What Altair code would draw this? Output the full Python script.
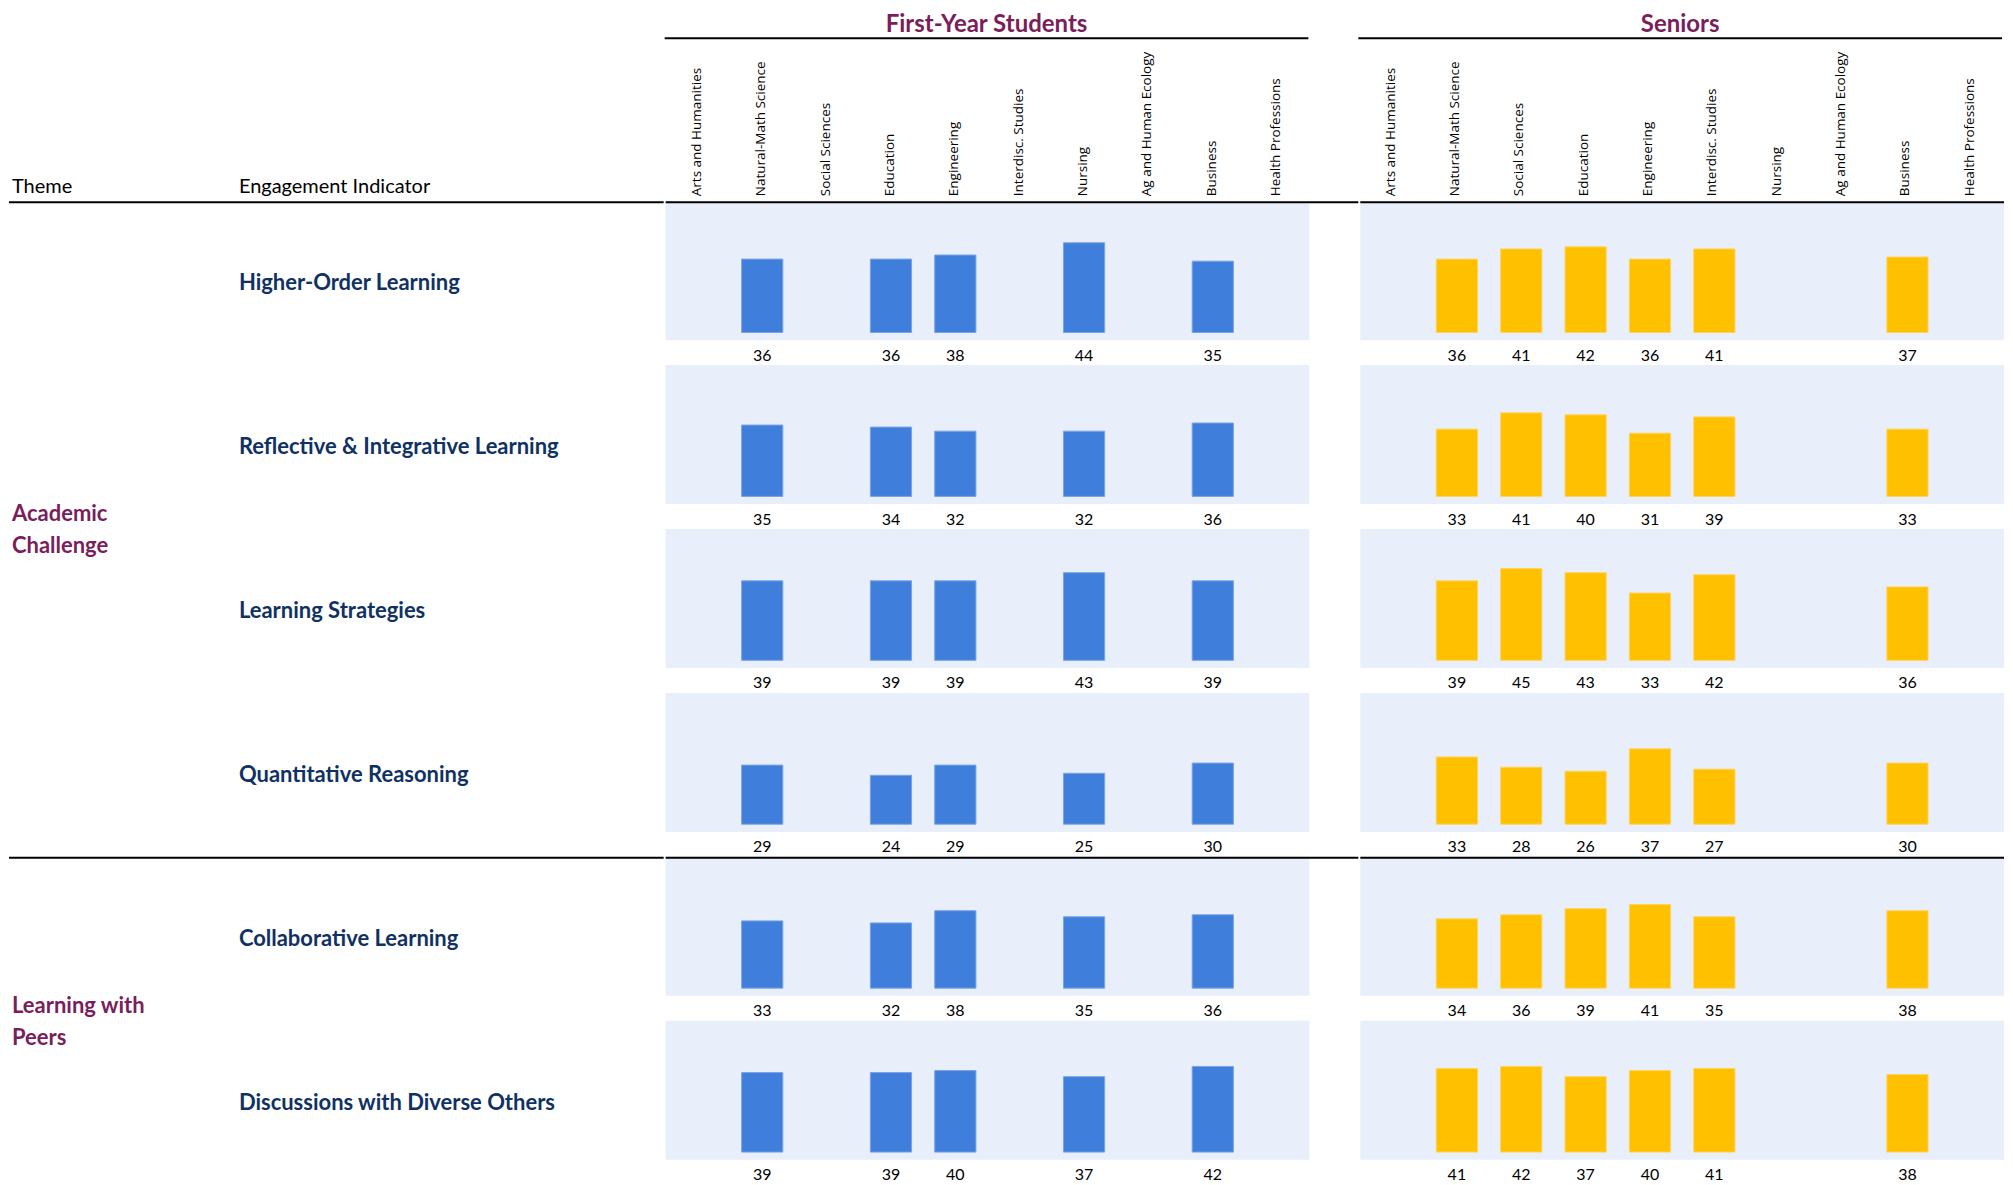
import altair as alt
import pandas as pd

# ---------------- data ----------------
categories = ["Arts and Humanities", "Natural-Math Science", "Social Sciences", "Education",
              "Engineering", "Interdisc. Studies", "Nursing", "Ag and Human Ecology",
              "Business", "Health Professions"]
cohorts = ["First-Year Students", "Seniors"]
themes = ["Academic Challenge", "Learning with Peers"]
theme_label_lines = [["Academic", "Challenge"], ["Learning with", "Peers"]]
indicators = ["Higher-Order Learning", "Reflective & Integrative Learning", "Learning Strategies",
              "Quantitative Reasoning", "Collaborative Learning", "Discussions with Diverse Others"]
indicator_themes = ["Academic Challenge"] * 4 + ["Learning with Peers"] * 2
header_labels = ["Theme", "Engagement Indicator"]

fy_categories = ["Natural-Math Science", "Education", "Engineering", "Nursing", "Business"]
fy_values = [
    [36, 36, 38, 44, 35],
    [35, 34, 32, 32, 36],
    [39, 39, 39, 43, 39],
    [29, 24, 29, 25, 30],
    [33, 32, 38, 35, 36],
    [39, 39, 40, 37, 42],
]
sr_categories = ["Natural-Math Science", "Social Sciences", "Education", "Engineering",
                 "Interdisc. Studies", "Business"]
sr_values = [
    [36, 41, 42, 36, 41, 37],
    [33, 41, 40, 31, 39, 33],
    [39, 45, 43, 33, 42, 36],
    [33, 28, 26, 37, 27, 30],
    [34, 36, 39, 41, 35, 38],
    [41, 42, 37, 40, 41, 38],
]

# ---------------- layout / style ----------------
LEFT_W, PANEL_W, GAP, HEAD_H, ROW_H, BG_H = 606, 644, 49, 193, 164, 139
Y_DOMAIN = [-16.0, 64.4]
BLUE, BLUE_EDGE = "#3F7FDB", "#79A4E6"
GOLD, GOLD_EDGE = "#FFC000", "#FFD45C"
PANEL_BG = "#E8EEFA"
MAROON = "#7A1E5B"
NAVY = "#0F3163"
FONT = "Lato"

theme_start = [i == 0 or indicator_themes[i] != indicator_themes[i - 1] for i in range(len(indicators))]


def cohort_frame(cats, vals):
    rows = []
    for i, ind in enumerate(indicators):
        for c, v in zip(cats, vals[i]):
            rows.append({"indicator": ind, "category": c, "value": v, "theme_start": theme_start[i]})
    return pd.DataFrame(rows)


x_scale = alt.Scale(domain=categories, range=[0, PANEL_W], paddingInner=0.36, paddingOuter=0.18)


# ---------------- header ----------------
def cohort_header(cohort, cell_w):
    tdf = pd.DataFrame({"cohort": [cohort]})
    title = alt.Chart(tdf).mark_text(
        font=FONT, fontSize=24, fontWeight="bold", color=MAROON, align="center", baseline="alphabetic"
    ).encode(x=alt.value(PANEL_W / 2), y=alt.value(24), text="cohort:N")
    underline = alt.Chart(tdf).mark_rule(color="black", strokeWidth=2).encode(
        x=alt.value(0), x2=alt.value(PANEL_W), y=alt.value(30))
    labels = alt.Chart(pd.DataFrame({"category": categories})).mark_text(
        angle=270, align="left", baseline="middle", font="Open Sans", fontSize=13.5, color="black"
    ).encode(x=alt.X("category:N", scale=x_scale, axis=None), y=alt.value(188), text="category:N")
    return alt.layer(title, underline, labels).properties(width=cell_w, height=HEAD_H)


hdf = pd.DataFrame({"label": header_labels})
left_head = alt.layer(
    alt.Chart(hdf).transform_filter(alt.datum.label == header_labels[0]).mark_text(
        font=FONT, fontSize=20, color="black", align="left", baseline="alphabetic"
    ).encode(x=alt.value(3), y=alt.value(185), text="label:N"),
    alt.Chart(hdf).transform_filter(alt.datum.label == header_labels[1]).mark_text(
        font=FONT, fontSize=20, color="black", align="left", baseline="alphabetic"
    ).encode(x=alt.value(230), y=alt.value(185), text="label:N"),
).properties(width=LEFT_W + GAP, height=HEAD_H)

# ---------------- left label column ----------------
ind_df = pd.DataFrame({"indicator": indicators, "theme": indicator_themes, "theme_start": theme_start})
anchors = []
for t in themes:
    members = [ind for ind, th in zip(indicators, indicator_themes) if th == t]
    anchors.append(members[(len(members) - 1) // 2])
theme_df = pd.DataFrame({"theme": themes, "anchor": anchors, "lines": theme_label_lines})

y_band = alt.Scale(domain=indicators, paddingInner=0, paddingOuter=0)
ind_text = alt.Chart(ind_df).mark_text(
    font=FONT, fontSize=22, fontWeight="bold", color=NAVY, align="left", baseline="middle"
).encode(x=alt.value(230), y=alt.Y("indicator:N", scale=y_band, axis=None), text="indicator:N")
theme_text = alt.Chart(theme_df).mark_text(
    font=FONT, fontSize=22, fontWeight="bold", color=MAROON, align="left", baseline="middle",
    lineHeight=32, dy=-15
).encode(x=alt.value(3), y=alt.Y("anchor:N", scale=y_band, axis=None, bandPosition=1), text="lines")
left_rule = alt.Chart(ind_df).transform_filter("datum.theme_start").mark_rule(
    color="black", strokeWidth=2, yOffset=1
).encode(x=alt.value(0), x2=alt.value(LEFT_W + GAP),
         y=alt.Y("indicator:N", scale=y_band, axis=None, bandPosition=0))
left_body = alt.layer(ind_text, theme_text, left_rule).properties(
    width=LEFT_W + GAP, height=ROW_H * len(indicators))


# ---------------- cohort panels ----------------
def cohort_body(df, color, edge, cell_w):
    base = alt.Chart()
    bg = base.transform_aggregate(n="count()", groupby=["indicator"]).mark_rect(color=PANEL_BG).encode(
        x=alt.value(0), x2=alt.value(PANEL_W), y=alt.value(0), y2=alt.value(BG_H))
    bars = base.mark_bar(color=color, stroke=edge, strokeWidth=1).encode(
        x=alt.X("category:N", scale=x_scale, axis=None),
        y=alt.Y("value:Q", scale=alt.Scale(domain=Y_DOMAIN), axis=None),
        y2=alt.datum(0))
    labels = base.mark_text(font=FONT, fontSize=16, color="black", baseline="alphabetic").encode(
        x=alt.X("category:N", scale=x_scale, axis=None), y=alt.value(159.5), text="value:Q")
    rule = base.transform_filter("datum.theme_start").transform_aggregate(
        n="count()", groupby=["indicator"]).mark_rule(color="black", strokeWidth=2).encode(
        x=alt.value(0), x2=alt.value(cell_w), y=alt.value(1))
    return alt.layer(bg, bars, labels, rule, data=df).properties(width=cell_w, height=ROW_H).facet(
        row=alt.Row("indicator:N", sort=indicators, header=None), spacing=0)


fy_body = cohort_body(cohort_frame(fy_categories, fy_values), BLUE, BLUE_EDGE, PANEL_W + GAP)
sr_body = cohort_body(cohort_frame(sr_categories, sr_values), GOLD, GOLD_EDGE, PANEL_W)

header = alt.hconcat(left_head, cohort_header(cohorts[0], PANEL_W + GAP),
                     cohort_header(cohorts[1], PANEL_W), spacing=0)
body = alt.hconcat(left_body, fy_body, sr_body, spacing=0)
chart = alt.vconcat(header, body, spacing=0).properties(padding=0).configure_view(stroke=None)

chart.save("out.html", embed_options={"renderer": "svg", "actions": False})
